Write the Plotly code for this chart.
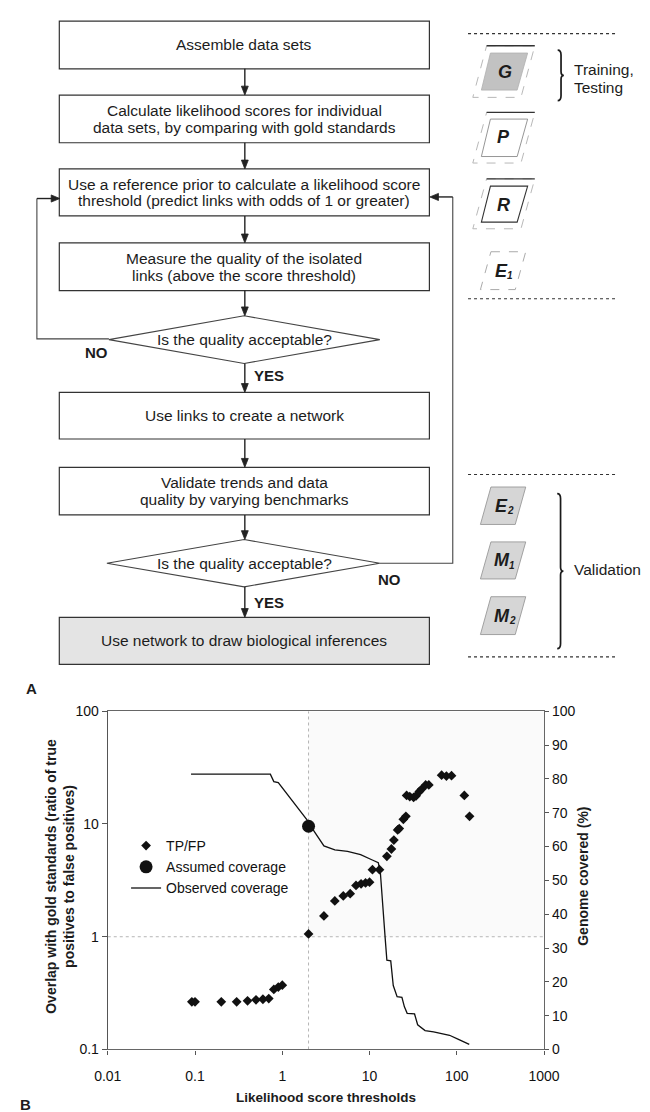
import plotly.graph_objects as go

# ---------------- data ----------------
# TP/FP ratio against likelihood score threshold
tp_threshold = [0.092, 0.1, 0.2, 0.3, 0.4, 0.5, 0.6, 0.7, 0.8, 0.9, 1.0,
                2, 3, 4, 5, 6, 7, 8, 9, 10, 10.8, 13,
                15.8, 17.8, 19, 21, 21.9, 24.4, 26.1, 26.6, 28.9, 32, 34.2,
                37.2, 39.4, 44, 47.8, 67, 76, 87, 122, 140]
tp_ratio = [0.265, 0.265, 0.265, 0.265, 0.27, 0.276, 0.279, 0.283, 0.341, 0.358, 0.372,
            1.06, 1.53, 2.08, 2.30, 2.41, 2.85, 2.95, 3.0, 3.05, 3.93, 3.93,
            5.17, 6.0, 7.2, 8.85, 9.1, 11.0, 11.7, 17.9, 17.5, 17.2, 17.8,
            19.4, 20.3, 22.2, 22.2, 27.1, 26.6, 26.8, 17.9, 11.7]

# assumed genome coverage at the reference prior
assumed_threshold = [2.0]
assumed_coverage = [66]

# observed genome coverage (%)
cov_threshold = [0.09, 0.73, 0.80, 0.90, 1.97, 2.24, 3.0, 4.0, 5.6, 7.9, 10.6, 12.0,
                 12.6, 13.3, 14.2, 15.1, 15.8, 17.5, 18.7, 20.7, 23.5, 25.1, 27.0,
                 32.8, 35.6, 43.3, 54.2, 69.8, 82.6, 106, 139]
cov_percent = [81.4, 81.4, 79.2, 78.9, 67.5, 65.1, 60.2, 59.0, 58.6, 57.6, 56.1, 55.4,
               55.2, 52.4, 40.8, 33.0, 26.4, 26.2, 18.9, 15.6, 15.4, 12.6, 10.7,
               10.5, 7.3, 5.6, 5.2, 4.6, 4.2, 2.9, 1.5]

threshold_cut = 2.0   # vertical reference line
ratio_cut = 1.0       # horizontal reference line (odds of 1)

x_ticks = [0.01, 0.1, 1, 10, 100, 1000]
x_tick_text = ["0.01", "0.1", "1", "10", "100", "1000"]
y_ticks = [0.1, 1, 10, 100]
y_tick_text = ["0.1", "1", "10", "100"]
cov_ticks = [0, 10, 20, 30, 40, 50, 60, 70, 80, 90, 100]

# flowchart steps (text lines)
steps = [
    ["Assemble data sets"],
    ["Calculate likelihood scores for individual",
     "data sets, by comparing with gold standards"],
    ["Use a reference prior to calculate a likelihood score",
     "threshold (predict links with odds of 1 or greater)"],
    ["Measure the quality of the isolated",
     "links (above the score threshold)"],
    ["Is the quality acceptable?"],
    ["Use links to create a network"],
    ["Validate trends and data",
     "quality by varying benchmarks"],
    ["Is the quality acceptable?"],
    ["Use network to draw biological inferences"],
]
step_kind = ["box", "box", "box", "box", "diamond", "box", "box", "diamond", "final"]

# ---------------- layout helpers ----------------
W, H = 650, 1112
FONT = "Liberation Sans, Arial, sans-serif"
INK = "#1c1c1c"


def X(px):
    return px / W


def Y(py):
    return 1 - py / H


def path(points, close=True):
    s = "M " + " L ".join(f"{X(a):.5f},{Y(b):.5f}" for a, b in points)
    return s + (" Z" if close else "")


shapes = []
annotations = []


def text(x, y, s, size=15.5, bold=False, italic=False, anchor="center", angle=0, color=INK):
    if bold:
        s = f"<b>{s}</b>"
    if italic:
        s = f"<i>{s}</i>"
    annotations.append(dict(x=X(x), y=Y(y), xref="paper", yref="paper", text=s,
                            showarrow=False, xanchor=anchor, yanchor="middle",
                            textangle=angle,
                            font=dict(size=size, family=FONT, color=color)))


def arrow(x0, y0, x1, y1, head=9, half=3.6):
    """Straight connector ending in a filled triangular head at (x1, y1)."""
    dx, dy = x1 - x0, y1 - y0
    n = (dx * dx + dy * dy) ** 0.5
    ux, uy = dx / n, dy / n
    bx, by = x1 - ux * head, y1 - uy * head
    shapes.append(dict(type="line", xref="paper", yref="paper",
                       x0=X(x0), y0=Y(y0), x1=X(bx + ux * 1.5), y1=Y(by + uy * 1.5),
                       line=dict(color="#222", width=1.4)))
    shapes.append(dict(type="path", xref="paper", yref="paper",
                       path=path([(x1, y1), (bx - uy * half, by + ux * half),
                                  (bx + uy * half, by - ux * half)]),
                       line=dict(color="#222", width=0.8), fillcolor="#222"))


# ---------------- flowchart ----------------
BX0, BX1, CX = 47.5, 435.5, 242
rows = [(13.3, 61.7), (88.3, 136.7), (163.3, 211), (238.3, 286.7), (312.3, 360.7),
        (390, 437.3), (466, 514.3), (539.3, 587.3), (618.3, 666)]
diamond_x = [(99.5, 383.5), (97.4, 383.5)]

d_i = 0
for lines, kind, (top, bot) in zip(steps, step_kind, rows):
    mid = (top + bot) / 2
    if kind == "diamond":
        xl, xr = diamond_x[d_i]
        d_i += 1
        shapes.append(dict(type="path", xref="paper", yref="paper",
                           path=path([(xl, mid), (CX - 0.7, top), (xr, mid), (CX - 0.7, bot)]),
                           line=dict(color="#444", width=1.1), fillcolor="white"))
    else:
        shapes.append(dict(type="rect", xref="paper", yref="paper",
                           x0=X(BX0), x1=X(BX1), y0=Y(bot), y1=Y(top),
                           line=dict(color="#333", width=1.2),
                           fillcolor="#e4e4e4" if kind == "final" else "white"))
    n = len(lines)
    for k, ln in enumerate(lines):
        text((BX0 + BX1) / 2, mid + (k - (n - 1) / 2) * 16.8, ln)

for (t0, b0), (t1, b1) in zip(rows[:-1], rows[1:]):
    arrow(CX, b0, CX, t1)

# decision labels
text(86, 349.3, "NO", size=15, bold=True)
text(267.5, 372.7, "YES", size=15, bold=True)
text(267.5, 603.3, "YES", size=15, bold=True)
text(394, 580, "NO", size=15, bold=True)

# feedback loops back to the threshold step
loop_style = dict(color="#444", width=1.1)
shapes.append(dict(type="path", xref="paper", yref="paper",
                   path=path([(99.5, 335.7), (24, 335.7), (24, 193.3)], close=False),
                   line=loop_style))
arrow(24, 193.3, 48, 193.3)
shapes.append(dict(type="path", xref="paper", yref="paper",
                   path=path([(383.5, 563.3), (460, 563.3), (460, 191.7)], close=False),
                   line=loop_style))
arrow(460, 191.7, 436, 191.7)

# ---------------- data-set column ----------------
for yy in (26, 295, 473.3, 658.3):
    shapes.append(dict(type="line", xref="paper", yref="paper",
                       x0=X(476), x1=X(633), y0=Y(yy), y1=Y(yy),
                       line=dict(color="#333", width=1.2, dash="dot")))


def outer_para(yt, yb):
    shapes.append(dict(type="path", xref="paper", yref="paper",
                       path=path([(495.5, yt), (546, yt), (531.5, yb), (481, yb)]),
                       line=dict(color="#b0b0b0", width=0.9, dash="dash"), fillcolor="white"))
    shapes.append(dict(type="line", xref="paper", yref="paper",
                       x0=X(495.5), x1=X(546), y0=Y(yt), y1=Y(yt),
                       line=dict(color="#333", width=1.3)))


def inner_para(yt, yb, fill, edge, width):
    shapes.append(dict(type="path", xref="paper", yref="paper",
                       path=path([(499.5, yt), (538.5, yt), (527.5, yb), (490, yb)]),
                       line=dict(color=edge, width=width), fillcolor=fill))


def small_para(yt, yb, fill, edge, dash="solid"):
    shapes.append(dict(type="path", xref="paper", yref="paper",
                       path=path([(500, yt), (536.5, yt), (525.5, yb), (489, yb)]),
                       line=dict(color=edge, width=0.9, dash=dash), fillcolor=fill))


outer_para(38.3, 90.7)
inner_para(45.7, 83.3, "#c2c2c2", "#b0b0b0", 0.8)
outer_para(106, 157.3)
inner_para(112.7, 150.7, "white", "#8a8a8a", 0.9)
outer_para(173.3, 224)
inner_para(180.7, 217.3, "white", "#333", 1.1)
small_para(247.3, 285.7, "white", "#a0a0a0", dash="dash")
small_para(486, 524, "#d6d6d6", "#999")
small_para(541.7, 579.3, "#d6d6d6", "#999")
small_para(597.3, 635.7, "#d6d6d6", "#999")

text(514.5, 65, "G", size=18, bold=True, italic=True)
text(513.5, 131, "P", size=18, bold=True, italic=True)
text(513.5, 199.5, "R", size=18, bold=True, italic=True)


def dataset_label(cx, cy, letter, index):
    """Bold italic letter with a small subscript index."""
    text(cx, cy, letter, size=18, bold=True, italic=True, anchor="right")
    text(cx - 5, cy + 5, index, size=10, bold=True, italic=True, anchor="left")


dataset_label(520, 266.5, "E", "1")
dataset_label(520, 505, "E", "2")
dataset_label(522, 560.5, "M", "1")
dataset_label(522, 616.5, "M", "2")


def brace(x, yt, yb, depth=5):
    ym = (yt + yb) / 2
    pts = (f"M {X(x):.5f},{Y(yt):.5f} Q {X(x + depth * 0.7):.5f},{Y(yt):.5f} {X(x + depth * 0.7):.5f},{Y(yt + 5):.5f} "
           f"L {X(x + depth * 0.7):.5f},{Y(ym - 4):.5f} Q {X(x + depth * 0.7):.5f},{Y(ym):.5f} {X(x + depth * 1.3):.5f},{Y(ym):.5f} "
           f"Q {X(x + depth * 0.7):.5f},{Y(ym):.5f} {X(x + depth * 0.7):.5f},{Y(ym + 4):.5f} "
           f"L {X(x + depth * 0.7):.5f},{Y(yb - 5):.5f} Q {X(x + depth * 0.7):.5f},{Y(yb):.5f} {X(x):.5f},{Y(yb):.5f}")
    shapes.append(dict(type="path", xref="paper", yref="paper", path=pts,
                       line=dict(color="#1a1a1a", width=1.7)))


brace(570, 42.7, 94)
text(585, 62.7, "Training,", anchor="left")
text(585, 81, "Testing", anchor="left")
brace(569.5, 492.7, 650)
text(584.5, 569.3, "Validation", anchor="left")

text(18.5, 690, "A", size=15, bold=True)
text(12.5, 1112, "B", size=15, bold=True)

# ---------------- chart ----------------
fig = go.Figure()

# quadrant above both cut-offs
fig.add_trace(go.Scatter(x=[threshold_cut, 1000, 1000, threshold_cut],
                         y=[ratio_cut, ratio_cut, 100, 100],
                         fill="toself", fillcolor="rgba(0,0,0,0.018)", mode="none",
                         showlegend=False, hoverinfo="skip"))
fig.add_trace(go.Scatter(x=[threshold_cut, threshold_cut], y=[0.1, 100], mode="lines",
                         line=dict(color="#b5b5b5", width=1, dash="dot"),
                         showlegend=False, hoverinfo="skip"))
fig.add_trace(go.Scatter(x=[0.01, 1000], y=[ratio_cut, ratio_cut], mode="lines",
                         line=dict(color="#b5b5b5", width=1, dash="dot"),
                         showlegend=False, hoverinfo="skip"))

fig.add_trace(go.Scatter(x=cov_threshold, y=cov_percent, yaxis="y2", mode="lines",
                         name="Observed coverage", legendrank=3,
                         line=dict(color="#111", width=1.3)))
fig.add_trace(go.Scatter(x=tp_threshold, y=tp_ratio, mode="markers", name="TP/FP",
                         legendrank=1,
                         marker=dict(symbol="diamond", size=7.5, color="#111")))
fig.add_trace(go.Scatter(x=assumed_threshold, y=assumed_coverage, yaxis="y2",
                         mode="markers", name="Assumed coverage", legendrank=2,
                         marker=dict(symbol="circle", size=13, color="#111")))

axis_font = dict(size=14, family=FONT, color="#111")
x_dom = [X(98.3), X(555.7)]
y_dom = [Y(1056.7), Y(713.5)]

text(327, 1105, "Likelihood score thresholds", size=13.5, bold=True)
text(48.7, 881, "Overlap with gold standards (ratio of true<br>positives to false positives)",
     size=14, bold=True, angle=-90)
text(597, 881, "Genome covered (%)", size=14, bold=True, angle=-90)

fig.update_layout(
    width=W, height=H,
    margin=dict(l=0, r=0, t=0, b=0),
    paper_bgcolor="white", plot_bgcolor="white",
    font=dict(family=FONT, color=INK),
    showlegend=True,
    legend=dict(x=X(117.5), y=Y(834), xanchor="left", yanchor="top",
                bgcolor="rgba(0,0,0,0)", font=dict(size=14, family=FONT, color="#111"),
                tracegroupgap=0),
    xaxis=dict(type="log", range=[-2, 3], domain=x_dom, anchor="y",
               tickvals=x_ticks, ticktext=x_tick_text, ticks="outside", ticklen=4,
               tickcolor="#555", showline=True, linecolor="#666", linewidth=1.2,
               mirror=True, showgrid=False, zeroline=False, tickfont=axis_font,
               ticklabelstandoff=10),
    yaxis=dict(type="log", range=[-1, 2], domain=y_dom, anchor="x",
               tickvals=y_ticks, ticktext=y_tick_text, ticks="outside", ticklen=5,
               tickcolor="#555", showline=True, linecolor="#555", linewidth=1.2,
               showgrid=False, zeroline=False, tickfont=axis_font),
    yaxis2=dict(range=[0, 100], overlaying="y", side="right", anchor="x",
                tickvals=cov_ticks, ticks="outside", ticklen=4, tickcolor="#555",
                showline=True, linecolor="#666", linewidth=1.2,
                showgrid=False, zeroline=False, tickfont=axis_font),
    shapes=shapes,
    annotations=annotations,
)

fig.write_html("out.html")
